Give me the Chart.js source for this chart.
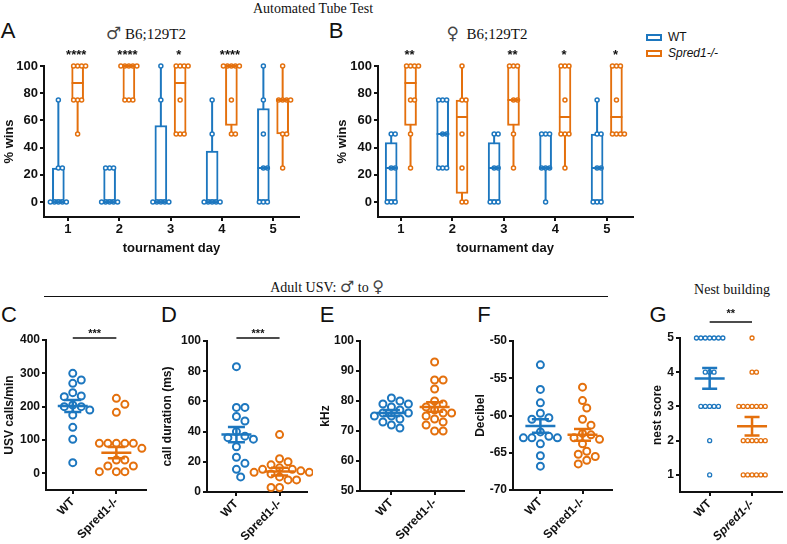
<!DOCTYPE html>
<html>
<head>
<meta charset="utf-8">
<script src="https://cdn.jsdelivr.net/npm/chart.js@4.4.1/dist/chart.umd.min.js"></script>
<style>
  body { margin: 0; width: 787px; height: 544px; background: #fff; position: relative; overflow: hidden;
         font-family: "Liberation Sans", Arial, sans-serif; color: #111; }
  canvas { position: absolute; }
  .lbl { position: absolute; white-space: nowrap; line-height: 1; }
  .cc { transform: translate(-50%, -50%); }
  .lc { transform: translateY(-50%); }
  .serif { font-family: "Liberation Serif", "DejaVu Serif", serif; font-size: 14px; }
  .sym { font-family: "DejaVu Sans", sans-serif; font-size: 17px; color: #444; }
  .letter { font-size: 22px; }
  .key { position: absolute; box-sizing: border-box; width: 16px; height: 7px; border: 2px solid; }
</style>
</head>
<body>
<div class="lbl serif cc" style="left:313px;top:9px">Automated Tube Test</div>
<div class="lbl letter cc" style="left:8px;top:31px">A</div>
<div class="lbl serif cc" style="left:146px;top:33px;font-size:15px"><span class="sym">♂</span> B6;129T2</div>
<div class="lbl letter cc" style="left:336px;top:31px">B</div>
<div class="lbl serif cc" style="left:487px;top:33px;font-size:15px"><span class="sym">♀</span>&nbsp; B6;129T2</div>
<div class="key" style="left:646px;top:34px;border-color:#1d77bf"></div>
<div class="lbl lc" style="left:668px;top:37px;font-size:12px">WT</div>
<div class="key" style="left:646px;top:50px;border-color:#e4700d"></div>
<div class="lbl lc" style="left:668px;top:53px;font-size:12px;font-style:italic">Spred1-/-</div>

<div class="lbl serif cc" style="left:327px;top:287px">Adult USV: <span class="sym" style="font-size:16px">♂</span> to <span class="sym" style="font-size:16px">♀</span></div>
<div style="position:absolute;left:44px;top:296px;width:564px;height:0;border-top:1.5px solid #111"></div>
<div class="lbl serif cc" style="left:732px;top:290px">Nest building</div>
<div class="lbl letter cc" style="left:9px;top:315px">C</div>
<div class="lbl letter cc" style="left:169px;top:315px">D</div>
<div class="lbl letter cc" style="left:327px;top:315px">E</div>
<div class="lbl letter cc" style="left:484px;top:315px">F</div>
<div class="lbl letter cc" style="left:658px;top:315px">G</div>

<canvas id="cA" width="305" height="222" style="left:0;top:40px"></canvas>
<canvas id="cB" width="305" height="222" style="left:333px;top:40px"></canvas>
<canvas id="cC" width="152" height="244" style="left:0;top:300px"></canvas>
<canvas id="cD" width="155" height="244" style="left:158px;top:300px"></canvas>
<canvas id="cE" width="154" height="244" style="left:316px;top:300px"></canvas>
<canvas id="cF" width="147" height="244" style="left:471px;top:300px"></canvas>
<canvas id="cG" width="139" height="244" style="left:648px;top:300px"></canvas>

<script>
const SANS = '"Liberation Sans", Arial, sans-serif';
const BLUE = '#1d77bf';
const ORANGE = '#e4700d';

// ---- data ----
const days = [1, 2, 3, 4, 5];
const groups = ['WT', 'Spred1-/-'];

// tube test box plots, per day: [min, q1, median, q3, max]
const maleWtBox = [[0, 0, 0, 25, 75], [0, 0, 0, 25, 25], [0, 0, 0, 56.25, 100], [0, 0, 0, 37.5, 75], [0, 0, 25, 68.75, 100]];
const maleKoBox = [[50, 75, 87.5, 100, 100], [75, 75, 100, 100, 100], [50, 50, 87.5, 100, 100], [50, 56.25, 100, 100, 100], [25, 50, 75, 75, 100]];
const maleWtPts = [[0, 0, 0, 0, 0, 25, 25, 75], [0, 0, 0, 0, 0, 25, 25, 25], [0, 0, 0, 0, 0, 75, 100], [0, 0, 0, 0, 0, 50, 75], [0, 0, 0, 25, 25, 50, 75, 100]];
const maleKoPts = [[100, 100, 100, 100, 75, 75, 75, 50], [100, 100, 100, 100, 100, 75, 75, 75], [100, 100, 100, 100, 75, 50, 50, 50], [100, 100, 100, 100, 100, 75, 50, 50], [100, 75, 75, 75, 75, 50, 50, 25]];
const maleStars = ['****', '****', '*', '****', ''];

const femWtBox = [[0, 0, 25, 43.75, 50], [25, 25, 50, 75, 75], [0, 0, 25, 43.75, 50], [0, 25, 25, 50, 50], [0, 0, 25, 50, 75]];
const femKoBox = [[25, 56.25, 87.5, 100, 100], [0, 6.25, 62.5, 75, 100], [25, 56.25, 75, 100, 100], [25, 50, 62.5, 100, 100], [50, 50, 62.5, 100, 100]];
const femWtPts = [[0, 0, 0, 25, 25, 50, 50], [25, 25, 25, 50, 50, 75, 75, 75], [0, 0, 0, 25, 25, 50, 50], [0, 25, 25, 25, 50, 50, 50], [0, 0, 0, 25, 25, 50, 50, 75]];
const femKoPts = [[100, 100, 100, 100, 75, 75, 50, 25], [0, 0, 25, 50, 75, 75, 100], [100, 100, 100, 75, 75, 50, 25], [100, 100, 100, 75, 50, 50, 50, 25], [100, 100, 100, 75, 50, 50, 50, 50]];
const femStars = ['**', '', '**', '*', '*'];

// USV + nest dot plots
const callsWt = [300, 280, 270, 242, 232, 230, 205, 200, 200, 190, 175, 138, 102, 32];
const callsKo = [225, 207, 183, 90, 90, 90, 90, 90, 75, 40, 40, 22, 22, 5, 5, 5];
const callsMean = [202, 62];
const callsSem = [18, 17];

const durWt = [83, 56, 56, 50, 47, 40, 37, 36, 35, 30, 23, 19, 15, 10];
const durKo = [38, 22, 20, 18, 16, 15, 15, 14, 13, 13, 12, 10, 8, 8, 3, 3];
const durMean = [38, 13.5];
const durSem = [5, 2.5];

const khzWt = [81, 80, 79, 79, 78, 77, 76, 76, 75, 75, 74, 73, 72, 71];
const khzKo = [93, 87, 87, 84, 80, 79, 78, 77, 76, 76, 75, 74, 73, 72, 70, 70];
const khzMean = [76, 78];
const khzSem = [1, 1.6];

const dbWt = [-53.2, -56.5, -58.3, -59.7, -60.3, -60.5, -62.2, -62.8, -63, -63, -63, -63.8, -65.4, -66.8];
const dbKo = [-56.2, -58, -59, -60.5, -61.3, -62.4, -62.6, -63, -63.2, -63.8, -64.8, -65.2, -65.5, -66, -66.5];
const dbMean = [-61.4, -62.6];
const dbSem = [0.9, 0.8];

const nestWt = [5, 5, 5, 5, 5, 5, 5, 4, 4, 4, 3, 3, 3, 3, 3, 2, 1];
const nestKo = [5, 4, 4, 3, 3, 3, 3, 3, 3, 3, 2, 2, 2, 2, 2, 2, 1, 1, 1, 1, 1, 1];
const nestMean = [3.82, 2.42];
const nestSem = [0.3, 0.27];

// ---- plugins ----
const boxPlugin = {
  id: 'boxes',
  beforeDatasetsDraw(chart) {
    const {ctx, scales: {y}} = chart;
    chart.data.datasets.forEach((ds, di) => {
      if (!ds.stats) return;
      const meta = chart.getDatasetMeta(di);
      ctx.save();
      ctx.strokeStyle = ds.borderColor;
      ctx.lineWidth = 2;
      ds.stats.forEach((s, i) => {
        const bar = meta.data[i];
        ctx.beginPath();
        ctx.moveTo(bar.x, y.getPixelForValue(s[0]));
        ctx.lineTo(bar.x, y.getPixelForValue(s[4]));
        ctx.stroke();
      });
      ctx.restore();
    });
  },
  afterDatasetsDraw(chart, args, opts) {
    const {ctx, scales: {x, y}} = chart;
    chart.data.datasets.forEach((ds, di) => {
      if (!ds.stats) return;
      const meta = chart.getDatasetMeta(di);
      ctx.save();
      ctx.strokeStyle = ds.borderColor;
      ctx.lineWidth = 2;
      ds.stats.forEach((s, i) => {
        const bar = meta.data[i];
        const py = y.getPixelForValue(s[2]);
        ctx.beginPath();
        ctx.moveTo(bar.x - bar.width / 2, py);
        ctx.lineTo(bar.x + bar.width / 2, py);
        ctx.stroke();
      });
      ctx.restore();
    });
    if (opts.stars) {
      ctx.save();
      ctx.fillStyle = '#111';
      ctx.font = 'bold 13px ' + SANS;
      ctx.textAlign = 'center';
      opts.stars.forEach((t, i) => {
        if (!t) return;
        ctx.fillText(t, x.getPixelForValue(days[i] + opts.dx), y.getPixelForValue(opts.y) + 7);
      });
      ctx.restore();
    }
  }
};

const meanPlugin = {
  id: 'meanSem',
  afterDatasetsDraw(chart, args, o) {
    if (!o.mean) return;
    const {ctx, scales: {x, y}} = chart;
    ctx.save();
    o.mean.forEach((m, i) => {
      const cx = x.getPixelForValue(i + 1);
      const top = y.getPixelForValue(m + o.sem[i]);
      const bot = y.getPixelForValue(m - o.sem[i]);
      const mid = y.getPixelForValue(m);
      ctx.strokeStyle = [BLUE, ORANGE][i];
      ctx.lineWidth = o.lw;
      ctx.beginPath();
      ctx.moveTo(cx - o.meanW / 2, mid); ctx.lineTo(cx + o.meanW / 2, mid);
      ctx.moveTo(cx, top); ctx.lineTo(cx, bot);
      ctx.moveTo(cx - o.capW / 2, top); ctx.lineTo(cx + o.capW / 2, top);
      ctx.moveTo(cx - o.capW / 2, bot); ctx.lineTo(cx + o.capW / 2, bot);
      ctx.stroke();
    });
    if (o.sig) {
      const py = y.getPixelForValue(o.sig.y);
      const x1 = x.getPixelForValue(1), x2 = x.getPixelForValue(2);
      ctx.strokeStyle = '#111';
      ctx.lineWidth = 1.5;
      ctx.beginPath(); ctx.moveTo(x1, py); ctx.lineTo(x2, py); ctx.stroke();
      ctx.fillStyle = '#111';
      ctx.font = 'bold 11px ' + SANS;
      ctx.textAlign = 'center';
      ctx.fillText(o.sig.text, (x1 + x2) / 2, py - o.sig.gap + 6);
    }
    ctx.restore();
  }
};

Chart.register(boxPlugin, meanPlugin);

// spread points of each group sideways so they don't overlap (beeswarm)
function swarm(chart, diam) {
  const xs = chart.scales.x, ys = chart.scales.y;
  chart.data.datasets.forEach(ds => {
    if (ds.type !== 'scatter') return;
    const byC = {};
    ds.data.forEach(p => (byC[p.c] = byC[p.c] || []).push(p));
    Object.values(byC).forEach(list => {
      const placed = [];
      const cx = xs.getPixelForValue(list[0].c);
      list.forEach(p => {
        const py = ys.getPixelForValue(p.y);
        let px = cx;
        for (let k = 0; k < 80; k++) {
          px = cx + (k % 2 ? 1 : -1) * Math.ceil(k / 2) * diam / 2;
          if (placed.every(q => Math.hypot(q[0] - px, q[1] - py) >= diam * 0.98)) break;
        }
        placed.push([px, py]);
        p.x = xs.getValueForPixel(px);
      });
    });
  });
  chart.update('none');
}

function scales(p) {
  const f = {family: SANS, weight: 'bold', size: p.fs};
  return {
    x: {
      type: 'linear', offset: false, min: p.xMin, max: p.xMax,
      border: {color: '#111', width: 2},
      grid: {offset: false, drawOnChartArea: false, tickLength: 4, color: '#111', lineWidth: 2},
      ticks: {stepSize: 1, includeBounds: false, autoSkip: false, color: '#111', padding: 1,
              font: p.xFont || f, maxRotation: p.rot, minRotation: p.rot,
              callback: p.xLabel || (v => v)},
      title: p.xTitle ? {display: true, text: p.xTitle, color: '#111', font: f, padding: {top: 0, bottom: 6}} : {display: false},
      afterFit: s => { s.height = p.xH; }
    },
    y: {
      type: 'linear', min: p.yMin, max: p.yMax,
      border: {color: '#111', width: 2},
      grid: {drawOnChartArea: false, tickLength: 4, color: '#111', lineWidth: 2},
      ticks: {stepSize: p.yStep, includeBounds: false, color: '#111', padding: 2, font: f},
      title: {display: true, text: p.yTitle, color: '#111', font: f, padding: {top: 2, bottom: 2}},
      afterFit: s => { s.width = p.yW; }
    }
  };
}

function make(id, type, datasets, sc, plugins, pad, diam) {
  const chart = new Chart(document.getElementById(id), {
    type: type,
    data: {datasets: datasets},
    options: {
      responsive: false, animation: false, events: [],
      layout: {padding: pad},
      plugins: Object.assign({legend: {display: false}, tooltip: {enabled: false}}, plugins),
      scales: sc
    }
  });
  swarm(chart, diam);
  return chart;
}

function boxSets(wtBox, koBox, wtPts, koPts) {
  const off = 0.188;
  const sets = [];
  [[wtBox, wtPts, -off, BLUE, groups[0]], [koBox, koPts, off, ORANGE, groups[1]]].forEach(([box, pts, o, col, name]) => {
    sets.push({
      type: 'bar', label: name, stats: box,
      data: days.map((d, i) => ({x: d + o, y: [box[i][1], box[i][3]]})),
      backgroundColor: '#fff', borderColor: col, borderWidth: 2, borderSkipped: false,
      grouped: false, barPercentage: 1, categoryPercentage: 1, maxBarThickness: 12,
      clip: false, order: 1
    });
    sets.push({
      type: 'scatter', label: name,
      data: days.flatMap((d, i) => pts[i].map(v => ({x: d + o, y: v, c: d + o}))),
      borderColor: col, backgroundColor: '#fff', pointRadius: 2, pointBorderWidth: 1.5,
      clip: false, order: 0
    });
  });
  return sets;
}

function dotSets(wt, ko, r, bw) {
  return [wt, ko].map((vals, i) => ({
    type: 'scatter', label: groups[i],
    data: vals.map(v => ({x: i + 1, y: v, c: i + 1})),
    borderColor: [BLUE, ORANGE][i], backgroundColor: 'rgba(0,0,0,0)',
    pointRadius: r, pointBorderWidth: bw, clip: false
  }));
}

const groupLabel = v => groups[v - 1] || '';

// A: male tube test
make('cA', 'bar', boxSets(maleWtBox, maleKoBox, maleWtPts, maleKoPts),
  scales({fs: 13, xMin: 0.532, xMax: 5.507, rot: 0, xTitle: 'tournament day', xH: 45,
          yMin: -11, yMax: 100, yStep: 20, yTitle: '% wins', yW: 44}),
  {boxes: {stars: maleStars, dx: 0.16, y: 110}},
  {top: 26, right: 6, left: 0, bottom: 0}, 4);

// B: female tube test
make('cB', 'bar', boxSets(femWtBox, femKoBox, femWtPts, femKoPts),
  scales({fs: 13, xMin: 0.556, xMax: 5.5, rot: 0, xTitle: 'tournament day', xH: 45,
          yMin: -11, yMax: 100, yStep: 20, yTitle: '% wins', yW: 45}),
  {boxes: {stars: femStars, dx: 0.17, y: 110}},
  {top: 26, right: 4, left: 0, bottom: 0}, 4);

// C: USV calls
make('cC', 'scatter', dotSets(callsWt, callsKo, 3.5, 2),
  scales({fs: 12, xMin: 0.386, xMax: 2.68, rot: 45, xLabel: groupLabel, xH: 54,
          yMin: -50, yMax: 400, yStep: 100, yTitle: 'USV calls/min', yW: 46}),
  {meanSem: {mean: callsMean, sem: callsSem, lw: 2.5, meanW: 30, capW: 17, sig: {y: 406, text: '***', gap: 7}}},
  {top: 40, right: 5, left: 0, bottom: 0}, 8.5);

// D: call duration
make('cD', 'scatter', dotSets(durWt, durKo, 3.5, 2),
  scales({fs: 12, xMin: 0.318, xMax: 2.636, rot: 45, xLabel: groupLabel, xH: 52,
          yMin: 0, yMax: 100, yStep: 20, yTitle: 'call duration (ms)', yW: 49}),
  {meanSem: {mean: durMean, sem: durSem, lw: 2.5, meanW: 30, capW: 17, sig: {y: 102, text: '***', gap: 7}}},
  {top: 41, right: 4, left: 0, bottom: 0}, 8.5);

// E: kHz
make('cE', 'scatter', dotSets(khzWt, khzKo, 3.5, 2),
  scales({fs: 12, xMin: 0.273, xMax: 2.68, rot: 45, xLabel: groupLabel, xH: 53,
          yMin: 50, yMax: 100, yStep: 10, yTitle: 'kHz', yW: 44}),
  {meanSem: {mean: khzMean, sem: khzSem, lw: 2.5, meanW: 30, capW: 17}},
  {top: 41, right: 4, left: 0, bottom: 0}, 8.5);

// F: decibel
make('cF', 'scatter', dotSets(dbWt, dbKo, 3.5, 2),
  scales({fs: 12, xMin: 0.35, xMax: 2.7, rot: 45, xLabel: groupLabel, xH: 54,
          yMin: -70, yMax: -50, yStep: 5, yTitle: 'Decibel', yW: 42}),
  {meanSem: {mean: dbMean, sem: dbSem, lw: 2.5, meanW: 30, capW: 17}},
  {top: 41, right: 4, left: 0, bottom: 0}, 8.5);

// G: nest building
make('cG', 'scatter', dotSets(nestWt, nestKo, 2, 1.3),
  scales({fs: 12, xMin: 0.3, xMax: 2.7, rot: 45, xLabel: groupLabel, xH: 52,
          xFont: c => ({family: SANS, size: 12, weight: 'bold', style: c.tick && c.tick.value === 2 ? 'italic' : 'normal'}),
          yMin: 0.5, yMax: 5, yStep: 1, yTitle: 'nest score', yW: 32}),
  {meanSem: {mean: nestMean, sem: nestSem, lw: 2.5, meanW: 30, capW: 15, sig: {y: 5.47, text: '**', gap: 11}}},
  {top: 38, right: 4, left: 0, bottom: 0}, 4.4);
</script>
</body>
</html>
